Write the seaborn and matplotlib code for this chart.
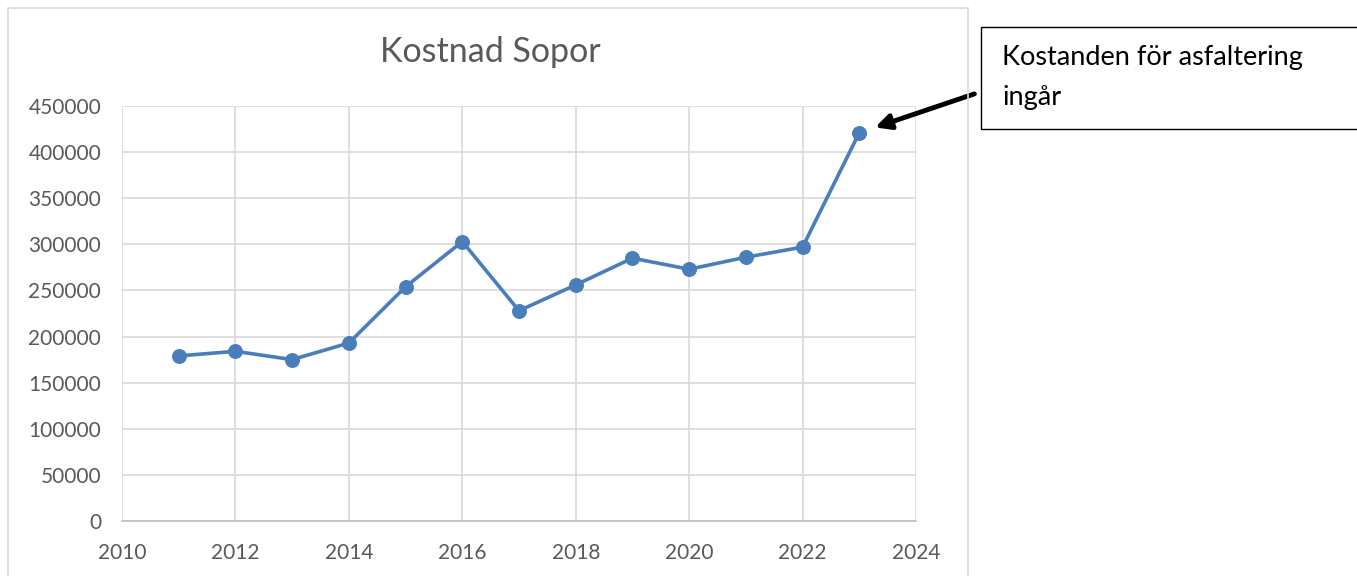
import numpy as np
import pandas as pd
import matplotlib
matplotlib.use("Agg")
import matplotlib.pyplot as plt
import seaborn as sns
from matplotlib.patches import Rectangle

# Data
years = [2011, 2012, 2013, 2014, 2015, 2016, 2017, 2018, 2019, 2020, 2021, 2022, 2023]
cost = [179000, 184000, 175000, 193000, 254000, 303000, 228000, 256000, 285000, 273000, 286000, 297000, 421000]
x_ticks = [2010, 2012, 2014, 2016, 2018, 2020, 2022, 2024]
y_ticks = [0, 50000, 100000, 150000, 200000, 250000, 300000, 350000, 400000, 450000]
title = "Kostnad Sopor"
note = "Kostanden för asfaltering\ningår"

df = pd.DataFrame({"year": years, "cost": cost})

sns.set_style("white")
plt.rcParams["font.family"] = ["Lato", "DejaVu Sans"]

TEXT = "#595959"
GRID = "#d9d9d9"
BLUE = "#4a7ebb"

fig = plt.figure(figsize=(13.57, 5.76), dpi=100)
W, H = 1357, 576

# chart area border (Excel style)
fig.patches.append(Rectangle((8 / W, -0.05), (968 - 8) / W, 1.05 - 8 / H,
                             transform=fig.transFigure, fill=False,
                             edgecolor=GRID, linewidth=1.2))

ax = fig.add_axes([122 / W, (H - 521) / H, (916 - 122) / W, (521 - 106) / H])
sns.lineplot(data=df, x="year", y="cost", ax=ax, color=BLUE, linewidth=2.6,
             marker="o", markersize=10, markeredgecolor=BLUE)

ax.set_xlim(2010, 2024)
ax.set_ylim(0, 450000)
ax.set_xticks(x_ticks)
ax.set_yticks(y_ticks)
ax.set_xticklabels([str(t) for t in x_ticks])
ax.set_yticklabels([str(t) for t in y_ticks])
ax.grid(True, color=GRID, linewidth=1.2)
ax.set_axisbelow(True)
for side in ["top", "right", "left"]:
    ax.spines[side].set_visible(False)
ax.spines["bottom"].set_color("#bfbfbf")
ax.spines["bottom"].set_linewidth(1.2)
ax.tick_params(length=0, labelsize=15, labelcolor=TEXT)
ax.tick_params(axis="x", pad=16)
ax.tick_params(axis="y", pad=15)
ax.set_xlabel("")
ax.set_ylabel("")

fig.text(490 / W, 1 - 52 / H, title, ha="center", va="center",
         fontsize=24.5, color=TEXT)

# callout box + arrow
fig.patches.append(Rectangle((981 / W, 1 - 129 / H), 400 / W, 102 / H,
                             transform=fig.transFigure, fill=False,
                             edgecolor="black", linewidth=1.0))
fig.text(1002 / W, 1 - 77 / H, note, ha="left", va="center",
         fontsize=19.5, color="black", linespacing=1.75)
ax.annotate("", xy=(years[-1], cost[-1]), xycoords="data",
            xytext=(977 / W, 1 - 93 / H), textcoords="figure fraction",
            arrowprops=dict(arrowstyle="-|>,head_length=0.9,head_width=0.45",
                            color="black", linewidth=3.5, shrinkB=12),
            annotation_clip=False)

fig.savefig("out.png", dpi=100)
